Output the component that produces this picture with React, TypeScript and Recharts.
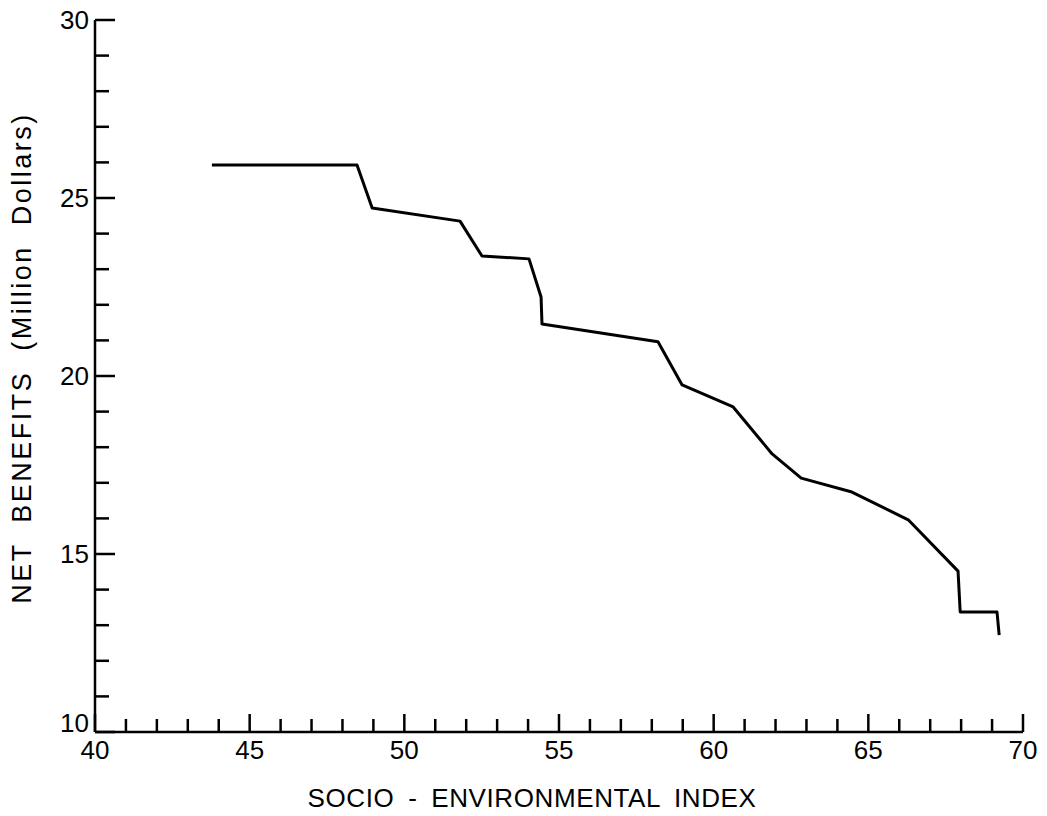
import React from "react";
import { LineChart, Line, XAxis, YAxis, Label } from "recharts";

const xValues = [43.78, 48.47, 48.96, 51.8, 52.51, 54.03, 54.42, 54.45, 58.2, 58.98, 60.63, 61.89, 62.83, 64.47, 66.29, 67.9, 67.97, 69.16, 69.23];
const netBenefits = [25.93, 25.93, 24.72, 24.35, 23.37, 23.29, 22.22, 21.46, 20.96, 19.75, 19.13, 17.81, 17.13, 16.74, 15.96, 14.52, 13.37, 13.37, 12.72];

const xTicks = [40, 41, 42, 43, 44, 45, 46, 47, 48, 49, 50, 51, 52, 53, 54, 55, 56, 57, 58, 59, 60, 61, 62, 63, 64, 65, 66, 67, 68, 69, 70];
const yTicks = [10, 11, 12, 13, 14, 15, 16, 17, 18, 19, 20, 21, 22, 23, 24, 25, 26, 27, 28, 29, 30];

const data = xValues.map((x, i) => ({ x, y: netBenefits[i] }));

const FONT = "'Liberation Sans', Arial, Helvetica, sans-serif";

const XTick = (props: any) => {
  const { x, y, payload } = props;
  const v = payload.value;
  const major = v % 5 === 0;
  return (
    <g>
      <line x1={x} y1={y} x2={x} y2={y - (major ? 18 : 13)} stroke="#000" strokeWidth={2.5} />
      {major && (
        <text x={x} y={y + 18} textAnchor="middle" dominantBaseline="central" fontSize={26} fontFamily={FONT} fill="#000">
          {v}
        </text>
      )}
    </g>
  );
};

const YTick = (props: any) => {
  const { x, y, payload } = props;
  const v = payload.value;
  const major = v % 5 === 0;
  return (
    <g>
      <line x1={x} y1={y} x2={x + (major ? 20 : 14)} y2={y} stroke="#000" strokeWidth={2.5} />
      {major && (
        <text x={x - 6} y={v === 10 ? y - 9 : y} textAnchor="end" dominantBaseline="central" fontSize={26} fontFamily={FONT} fill="#000">
          {v}
        </text>
      )}
    </g>
  );
};

export default function App() {
  return (
    <div style={{ position: "absolute", left: 0, top: 0, background: "#fff" }}>
      <LineChart width={1047} height={816} data={data} margin={{ top: 20, right: 24, left: 0, bottom: 0 }}>
        <XAxis
          dataKey="x"
          type="number"
          domain={[40, 70]}
          ticks={xTicks}
          interval={0}
          height={84}
          tickSize={0}
          tickMargin={0}
          tickLine={false}
          axisLine={{ stroke: "#000", strokeWidth: 2.5 }}
          tick={<XTick />}
        >
          <Label
            content={() => (
              <text x={532} y={798} textAnchor="middle" dominantBaseline="central" fontSize={26} fontFamily={FONT} letterSpacing={0.6} wordSpacing={6} fill="#000">
                SOCIO - ENVIRONMENTAL INDEX
              </text>
            )}
          />
        </XAxis>
        <YAxis
          type="number"
          domain={[10, 30]}
          ticks={yTicks}
          interval={0}
          width={95}
          tickSize={0}
          tickMargin={0}
          tickLine={false}
          axisLine={{ stroke: "#000", strokeWidth: 2.5 }}
          tick={<YTick />}
        >
          <Label
            content={() => (
              <text
                x={22}
                y={358}
                transform="rotate(-90 22 358)"
                textAnchor="middle"
                dominantBaseline="central"
                fontSize={27}
                fontFamily={FONT}
                letterSpacing={2.5}
                wordSpacing={10}
                fill="#000"
              >
                NET BENEFITS (Million Dollars)
              </text>
            )}
          />
        </YAxis>
        <Line
          type="linear"
          dataKey="y"
          stroke="#000"
          strokeWidth={3}
          dot={false}
          isAnimationActive={false}
          strokeLinejoin="round"
        />
      </LineChart>
    </div>
  );
}
